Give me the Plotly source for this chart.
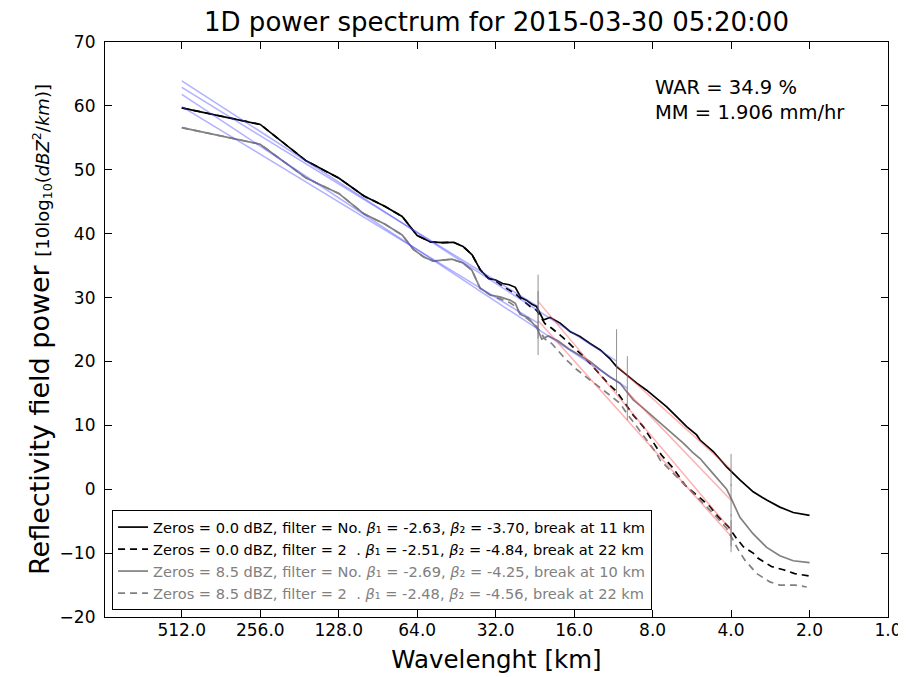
import numpy as np
import plotly.graph_objects as go

# ---------------- data ----------------
title_text = "1D power spectrum for 2015-03-30 05:20:00"
war_pct = 34.9
mm_rate = 1.906

x_tick_vals = [512, 256, 128, 64, 32, 16, 8, 4, 2, 1]
x_tick_text = ["512.0", "256.0", "128.0", "64.0", "32.0", "16.0", "8.0", "4.0", "2.0", "1.0"]
y_tick_vals = [-20, -10, 0, 10, 20, 30, 40, 50, 60, 70]

# Zeros = 0.0 dBZ, no filter
wl_black = [512, 256, 170.7, 128, 102.4, 85.3, 73.1, 64, 56.9, 51.2, 46.5, 42.7, 39.4, 36.6,
            34.1, 32.0, 30.1, 28.4, 26.9, 25.6, 24.4, 23.3, 22.3, 21.0, 19.8, 18.1, 16.6, 15.2,
            13.9, 12.7, 11.7, 11.0, 10.06, 9.2, 8.43, 7.72, 7.06, 6.47, 5.92, 5.42, 5.26, 4.68,
            4.16, 3.70, 3.29, 2.92, 2.60, 2.31, 2.0]
val_black = [59.7, 57.1, 51.4, 48.7, 45.9, 44.3, 42.7, 39.7, 38.7, 38.6, 38.65, 38.0, 36.7, 34.3,
             33.0, 32.75, 32.2, 32.0, 31.6, 30.0, 29.6, 29.0, 28.6, 26.5, 26.9, 26.0, 24.7, 23.9,
             22.8, 21.8, 20.5, 19.2, 17.9, 16.6, 15.5, 14.2, 12.9, 11.35, 9.8, 8.5, 7.7, 5.9,
             3.5, 1.45, -0.4, -1.7, -2.8, -3.65, -4.1]

# Zeros = 0.0 dBZ, filter = 2
wl_black_f = [512, 256, 170.7, 128, 102.4, 85.3, 73.1, 64, 56.9, 51.2, 46.5, 42.7, 39.4, 36.6,
              34.1, 32.0, 30.1, 28.4, 26.9, 25.6, 24.4, 23.6, 22.3, 20.7, 19.5, 17.6, 16.2, 14.9,
              13.7, 12.7, 11.7, 11.0, 10.2, 9.49, 8.69, 7.95, 7.40, 6.67, 6.01, 5.42, 4.82, 4.48,
              4.10, 3.81, 3.59, 3.29, 3.15, 2.80, 2.52, 2.28, 2.0]
val_black_f = [59.7, 57.1, 51.4, 48.7, 45.9, 44.3, 42.7, 39.7, 38.7, 38.6, 38.65, 38.0, 36.7, 34.3,
               33.0, 32.6, 31.8, 31.2, 30.6, 29.8, 29.0, 28.6, 28.0, 25.9, 25.2, 23.7, 22.3, 21.0,
               19.4, 17.9, 16.3, 15.3, 13.45, 11.6, 9.8, 7.45, 5.35, 3.3, 0.65, -0.9, -2.7, -4.3,
               -5.85, -7.7, -9.0, -10.0, -10.8, -12.1, -12.6, -13.2, -13.6]

# Zeros = 8.5 dBZ, no filter
wl_gray = [512, 256, 170.7, 128, 102.4, 85.3, 73.1, 66.2, 60.6, 55.6, 47.1, 42.7, 39.5, 36.7,
           33.6, 30.8, 28.2, 26.9, 25.8, 24.0, 22.2, 21.3, 20.1, 18.4, 16.8, 15.2, 13.9, 12.7,
           11.7, 10.67, 10.06, 9.49, 8.69, 7.95, 7.28, 6.67, 6.10, 5.59, 5.26, 4.68, 4.16, 3.98,
           3.70, 3.29, 2.92, 2.60, 2.31, 2.0]
val_gray = [56.6, 54.0, 48.7, 46.3, 43.1, 41.5, 39.8, 37.55, 36.4, 35.7, 36.0, 35.4, 34.3, 31.45,
            30.4, 30.1, 29.6, 29.1, 27.4, 26.8, 25.2, 23.5, 24.0, 23.2, 22.0, 21.0, 20.0, 18.7,
            17.6, 16.6, 15.3, 14.0, 12.7, 11.35, 10.0, 8.6, 7.2, 5.7, 4.8, 2.4, 0.0, -1.6,
            -4.4, -7.0, -9.1, -10.4, -11.2, -11.5]

# Zeros = 8.5 dBZ, filter = 2
wl_gray_f = [512, 256, 170.7, 128, 102.4, 85.3, 73.1, 66.2, 60.6, 55.6, 47.1, 42.7, 39.5, 36.7,
             33.6, 30.8, 28.2, 26.9, 25.8, 24.0, 22.3, 20.7, 19.5, 17.3, 15.6, 13.9, 12.7, 11.7,
             10.67, 10.06, 9.2, 8.43, 7.72, 7.50, 6.67, 5.92, 5.26, 4.68, 4.16, 3.75, 3.54, 3.19,
             2.84, 2.60, 2.28, 2.05]
val_gray_f = [56.6, 54.0, 48.7, 46.3, 43.1, 41.5, 39.8, 37.55, 36.4, 35.7, 36.0, 35.4, 34.3, 31.45,
              30.4, 29.8, 29.2, 28.6, 27.5, 26.6, 25.5, 23.5, 22.8, 20.4, 18.7, 17.1, 15.8, 14.75,
              13.45, 11.9, 9.8, 7.7, 5.6, 4.6, 2.5, 0.4, -1.7, -3.8, -6.1, -9.5, -11.1, -13.2,
              -14.5, -15.0, -15.0, -15.3]

# legend / fit parameters (order: black, black filtered, gray, gray filtered)
zeros_dbz = [0.0, 0.0, 8.5, 8.5]
filter_txt = ["No.", "2\u00a0\u00a0.", "No.", "2\u00a0\u00a0."]
beta1 = [-2.63, -2.51, -2.69, -2.48]
beta2 = [-3.70, -4.84, -4.25, -4.56]
break_km = [11, 22, 10, 22]
fit1_start_val = [63.9, 62.9, 61.8, 59.9]   # large-scale fit value at 512 km
fit2_start_val = [19.3, 29.4, 15.2, 26.4]   # small-scale fit value at the break
fit1_start_wl = 512
fit2_end_wl = 4
break_tick_half = 5.0
end_tick_half = 2.5

# ---------------- styles ----------------
curve_colors = ["black", "black", "gray", "gray"]
curve_dash = ["solid", "7px,5px", "solid", "7px,5px"]
text_colors = ["black", "black", "gray", "gray"]
FONT = "DejaVu Sans"

# the page body has an 8 px margin: shrink the figure so it fills the window
W, H = 898, 669

curves = [(wl_black, val_black), (wl_black_f, val_black_f),
          (wl_gray, val_gray), (wl_gray_f, val_gray_f)]

fig = go.Figure()

for i, (wl, val) in enumerate(curves):
    name = (f"Zeros = {zeros_dbz[i]:.1f} dBZ, filter = {filter_txt[i]} "
            f"<i>β</i>\u2081 = {beta1[i]:.2f}, <i>β</i>\u2082 = {beta2[i]:.2f}, "
            f"break at {break_km[i]} km")
    name = f'<span style="color:{text_colors[i]}">{name}</span>'
    fig.add_trace(go.Scatter(x=wl, y=val, mode="lines", name=name,
                             line=dict(color=curve_colors[i], width=1.7, dash=curve_dash[i])))

# fit lines
vx, vy = [], []
for i in range(4):
    b = break_km[i]
    end1 = fit1_start_val[i] + 10 * beta1[i] * np.log10(fit1_start_wl / b)
    end2 = fit2_start_val[i] + 10 * beta2[i] * np.log10(b / fit2_end_wl)
    fig.add_trace(go.Scatter(x=[fit1_start_wl, b], y=[fit1_start_val[i], end1], mode="lines",
                             line=dict(color="rgba(70,70,255,0.42)", width=1.5),
                             showlegend=False, hoverinfo="skip"))
    fig.add_trace(go.Scatter(x=[b, fit2_end_wl], y=[fit2_start_val[i], end2], mode="lines",
                             line=dict(color="rgba(255,70,70,0.42)", width=1.5),
                             showlegend=False, hoverinfo="skip"))
    vx += [b, b, None, fit2_end_wl, fit2_end_wl, None]
    vy += [end1 - break_tick_half, end1 + break_tick_half, None,
           end2 - end_tick_half, end2 + end_tick_half, None]

fig.add_trace(go.Scatter(x=vx, y=vy, mode="lines",
                         line=dict(color="rgba(110,110,110,0.75)", width=1),
                         showlegend=False, hoverinfo="skip"))

axis_common = dict(showline=True, linecolor="black", linewidth=1.2, mirror="ticks",
                   ticks="inside", ticklen=7, tickcolor="black", tickwidth=1,
                   showgrid=False, zeroline=False, automargin=False,
                   tickfont=dict(family=FONT, size=17, color="black"))

ytitle = ('Reflectivity field power '
          '<span style="font-size:18px">[10log<sub>10</sub>(<i>dBZ</i><sup>2</sup>/<i>km</i>)]</span>')

fig.update_layout(
    width=W, height=H,
    margin=dict(l=97, r=18, t=34, b=60),
    paper_bgcolor="white", plot_bgcolor="white",
    font=dict(family=FONT, color="black"),
    title=dict(text=title_text, x=0.5, xref="paper", xanchor="center",
               y=1 - 14 / H, yref="container", yanchor="middle",
               font=dict(family=FONT, size=26, color="black")),
    xaxis=dict(type="log", range=[np.log10(1009), 0], tickvals=x_tick_vals, ticktext=x_tick_text,
               ticklabelstandoff=-3,
               title=dict(text="Wavelenght [km]", font=dict(family=FONT, size=24.5), standoff=12),
               **axis_common),
    yaxis=dict(range=[-20, 70], tickvals=y_tick_vals, ticklabelstandoff=5,
               title=dict(text=ytitle, font=dict(family=FONT, size=27), standoff=2),
               **axis_common),
    legend=dict(x=0.009, y=0.012, xanchor="left", yanchor="bottom",
                bordercolor="black", borderwidth=1, bgcolor="white",
                font=dict(family=FONT, size=14.6, color="black"),
                tracegroupgap=0, itemwidth=30),
    showlegend=True,
    annotations=[dict(text=f"WAR = {war_pct} %<br>MM = {mm_rate} mm/hr", xref="paper", yref="paper",
                      x=0.70, y=0.945, xanchor="left", yanchor="top", showarrow=False, align="left",
                      font=dict(family=FONT, size=19.5, color="black"))],
)

fig.write_html("out.html")
